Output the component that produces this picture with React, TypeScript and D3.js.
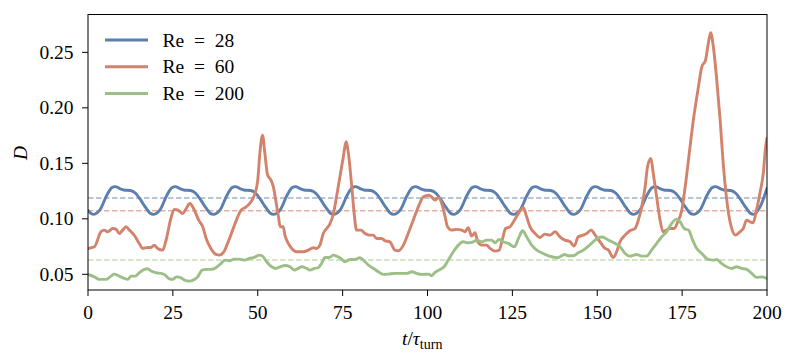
import React from "react";
import * as d3 from "d3";

const W = 797;
const H = 363;
const plot = { left: 88, right: 767, top: 14.5, bottom: 290 };

const xTicks = [0, 25, 50, 75, 100, 125, 150, 175, 200];
const yTicks = [0.05, 0.1, 0.15, 0.2, 0.25];

const seriesNames = ["Re = 28", "Re = 60", "Re = 200"];
const seriesColors = ["#5b7fae", "#d3826b", "#9cbf87"];
const meanColors = ["#9fb4d2", "#e8afa2", "#c7dcb8"];
const meanValues = [0.1187, 0.1072, 0.0629];

// [t / tau_turn, D]
const re28: [number, number][] = [
  [0, 0.1075], [1.5, 0.104], [3.5, 0.108], [5.5, 0.121], [7, 0.128], [8, 0.129], [9.5, 0.127], [10.5, 0.126],
  [12.5, 0.1255], [14, 0.123], [15.5, 0.117], [17, 0.11], [18.3, 0.105], [19.2, 0.104],
  [21.2, 0.108], [23.2, 0.121], [24.7, 0.128], [25.7, 0.129], [27.2, 0.127], [28.2, 0.126], [30.2, 0.1255],
  [31.7, 0.123], [33.2, 0.117], [34.7, 0.11], [36, 0.105], [36.9, 0.104],
  [38.9, 0.108], [40.9, 0.121], [42.4, 0.128], [43.4, 0.129], [44.9, 0.127], [45.9, 0.126], [47.9, 0.1255],
  [49.4, 0.123], [50.9, 0.117], [52.4, 0.11], [53.7, 0.105], [54.6, 0.104],
  [56.6, 0.108], [58.6, 0.121], [60.1, 0.128], [61.1, 0.129], [62.6, 0.127], [63.6, 0.126], [65.6, 0.1255],
  [67.1, 0.123], [68.6, 0.117], [70.1, 0.11], [71.4, 0.105], [72.3, 0.104],
  [74.3, 0.108], [76.3, 0.121], [77.8, 0.128], [78.8, 0.129], [80.3, 0.127], [81.3, 0.126], [83.3, 0.1255],
  [84.8, 0.123], [86.3, 0.117], [87.8, 0.11], [89.1, 0.105], [90, 0.104],
  [92, 0.108], [94, 0.121], [95.5, 0.128], [96.5, 0.129], [98, 0.127], [99, 0.126], [101, 0.1255],
  [102.5, 0.123], [104, 0.117], [105.5, 0.11], [106.8, 0.105], [107.6, 0.104],
  [109.6, 0.108], [111.6, 0.121], [113.1, 0.128], [114.1, 0.129], [115.6, 0.127], [116.6, 0.126], [118.6, 0.1255],
  [120.1, 0.123], [121.6, 0.117], [123.1, 0.11], [124.4, 0.105], [125.3, 0.104],
  [127.3, 0.108], [129.3, 0.121], [130.8, 0.128], [131.8, 0.129], [133.3, 0.127], [134.3, 0.126], [136.3, 0.1255],
  [137.8, 0.123], [139.3, 0.117], [140.8, 0.11], [142.1, 0.105], [143, 0.104],
  [145, 0.108], [147, 0.121], [148.5, 0.128], [149.5, 0.129], [151, 0.127], [152, 0.126], [154, 0.1255],
  [155.5, 0.123], [157, 0.117], [158.5, 0.11], [159.8, 0.105], [160.6, 0.104],
  [162.6, 0.108], [164.6, 0.121], [166.1, 0.128], [167.1, 0.129], [168.6, 0.127], [169.6, 0.126], [171.6, 0.1255],
  [173.1, 0.123], [174.6, 0.117], [176.1, 0.11], [177.4, 0.105], [178.3, 0.104],
  [180.3, 0.108], [182.3, 0.121], [183.8, 0.128], [184.8, 0.129], [186.3, 0.127], [187.3, 0.126], [189.3, 0.1255],
  [190.8, 0.123], [192.3, 0.117], [193.8, 0.11], [195.1, 0.105], [196, 0.104],
  [198, 0.111], [200, 0.1275],
];

const re60: [number, number][] = [
  [0, 0.0733], [1.9, 0.0748], [3.8, 0.0883], [4.8, 0.0898], [5.8, 0.0883], [7.3, 0.0913], [8.3, 0.0905],
  [9.2, 0.0868], [10.2, 0.0898], [11.2, 0.0928], [12.2, 0.0898], [13.6, 0.0853], [15.1, 0.0778], [16.1, 0.0733],
  [17.6, 0.0742], [18.6, 0.0742], [19.5, 0.0763], [20.5, 0.0733], [22, 0.0718], [23, 0.0808], [24.4, 0.1003],
  [25.4, 0.1085], [26.4, 0.108], [27.9, 0.1048], [28.8, 0.1085], [30, 0.1138], [31.1, 0.1093], [32.6, 0.0988],
  [33.8, 0.0928], [34.8, 0.0823], [36.2, 0.0733], [37.7, 0.0679], [38.7, 0.0673], [39.9, 0.0697], [41.1, 0.0778],
  [42.6, 0.0898], [44.1, 0.1018], [45.1, 0.1078], [46.6, 0.1108], [48, 0.1153], [49, 0.1213], [50, 0.1349],
  [50.6, 0.158], [51.4, 0.1754], [52.1, 0.159], [52.9, 0.1394], [53.9, 0.1349], [54.6, 0.1288], [55.3, 0.1168],
  [56.1, 0.1018], [56.6, 0.0928], [57.5, 0.0928], [58, 0.0853], [59, 0.0778], [60, 0.0733], [61.5, 0.0703],
  [63.4, 0.0703], [64.9, 0.0718], [66.4, 0.0739], [67.3, 0.0733], [68.3, 0.0763], [69.3, 0.0868], [70.3, 0.0913],
  [71.3, 0.0958], [72.3, 0.1048], [73.2, 0.1198], [74.2, 0.1378], [75.2, 0.1558], [76, 0.1694], [76.7, 0.159],
  [77.7, 0.1288], [78.4, 0.1048], [79.1, 0.0898], [80.4, 0.0898], [81.6, 0.0868], [83, 0.0853], [84, 0.0853],
  [85, 0.0823], [86.5, 0.0823], [87.5, 0.0802], [88.9, 0.0793], [90.4, 0.0718], [91.4, 0.0712], [92.9, 0.0763],
  [94.3, 0.0868], [95.8, 0.0988], [97.3, 0.1108], [98.8, 0.1198], [100.4, 0.1213], [101.2, 0.1198],
  [102.2, 0.1168], [103.2, 0.1193], [104.2, 0.1138], [105.2, 0.1018], [105.9, 0.0928], [107.1, 0.0898],
  [108.6, 0.0905], [110.1, 0.0898], [111, 0.0883], [112, 0.0919], [113, 0.0844], [114, 0.0874], [114.8, 0.0793],
  [116, 0.0763], [117.4, 0.0763], [118.4, 0.0733], [119.9, 0.0709], [121.1, 0.0718], [122, 0.0808], [123, 0.0913],
  [124.3, 0.0928], [125.6, 0.0988], [126.8, 0.1048], [128.2, 0.1103], [129.2, 0.1018], [130.2, 0.0928],
  [131.7, 0.0868], [133.1, 0.0832], [134.6, 0.0862], [136.1, 0.0853], [137.6, 0.0883], [139, 0.0838],
  [140.5, 0.0808], [142, 0.0793], [143.2, 0.0754], [144.4, 0.0838], [145.9, 0.0853], [146.9, 0.0868],
  [148.2, 0.0898], [149.3, 0.0858], [150.8, 0.0793], [152.3, 0.0733], [153.3, 0.0718], [154.7, 0.0652],
  [155.7, 0.0703], [156.7, 0.0793], [158.2, 0.0853], [159.6, 0.0892], [161.1, 0.0913], [162.1, 0.0988],
  [163.1, 0.1108], [164.1, 0.1288], [164.8, 0.1468], [165.8, 0.1544], [166.5, 0.1409], [167.5, 0.1198],
  [168.5, 0.0988], [169.4, 0.0883], [170.4, 0.0898], [171.4, 0.0913], [172.7, 0.0913], [173.7, 0.0973],
  [174.9, 0.1078], [175.9, 0.1288], [177.1, 0.159], [178.3, 0.1889], [179.8, 0.2189], [180.8, 0.2369],
  [181.9, 0.243], [182.7, 0.258], [183.4, 0.2676], [184.2, 0.255], [185.2, 0.225], [186.2, 0.1889],
  [187.1, 0.1499], [188.4, 0.1108], [189.6, 0.0913], [190.7, 0.0853], [192, 0.0883], [193, 0.0913],
  [194, 0.0988], [195, 0.0973], [195.9, 0.0964], [196.9, 0.1078], [197.9, 0.1229], [198.9, 0.1409],
  [199.6, 0.1649], [200, 0.1727],
];

const re200: [number, number][] = [
  [0, 0.0499], [1.9, 0.0477], [3.3, 0.0454], [5.3, 0.0454], [6.5, 0.0477], [7.7, 0.0502], [9.2, 0.0484],
  [10.7, 0.0463], [11.7, 0.0454], [12.7, 0.0484], [13.9, 0.0484], [15.1, 0.0514], [16.6, 0.0544], [17.6, 0.055],
  [18.6, 0.0529], [20.1, 0.0514], [21.5, 0.0508], [22.5, 0.0499], [23.8, 0.0463], [24.9, 0.0454], [26.1, 0.0477],
  [27.4, 0.0468], [28.4, 0.0448], [29.8, 0.0439], [31, 0.0448], [32.3, 0.0477], [33.6, 0.0538], [34.8, 0.0544],
  [36.2, 0.0544], [37.7, 0.0559], [39.2, 0.0598], [40.4, 0.0628], [41.6, 0.0622], [43.1, 0.0637], [44.6, 0.0637],
  [46.1, 0.0628], [47.5, 0.0643], [49, 0.0652], [50.5, 0.0673], [51.4, 0.0664], [52.6, 0.0613], [54.1, 0.0568],
  [55.3, 0.0553], [56.6, 0.0568], [58, 0.058], [59.5, 0.0568], [60.8, 0.0538], [61.9, 0.0553], [62.9, 0.0568],
  [64.4, 0.0553], [65.4, 0.0538], [66.7, 0.0553], [67.8, 0.0559], [68.8, 0.0598], [69.8, 0.0652], [71, 0.0652],
  [72.3, 0.0673], [73.2, 0.0664], [74.5, 0.0643], [75.7, 0.0613], [77.2, 0.0634], [78.6, 0.0634], [80.1, 0.0649],
  [81.1, 0.0628], [82.6, 0.0583], [84.1, 0.0553], [85.5, 0.0523], [87, 0.0499], [88.5, 0.0502], [90.4, 0.0508],
  [92.4, 0.0508], [93.9, 0.0508], [95.4, 0.0523], [96.8, 0.0508], [98.3, 0.0499], [100.3, 0.0502],
  [101.2, 0.0487], [102.2, 0.0517], [103.7, 0.0544], [104.9, 0.0568], [106.1, 0.0628], [107.6, 0.0703],
  [109.1, 0.0763], [110.5, 0.0793], [112, 0.0784], [113.5, 0.0793], [114.5, 0.0808], [116, 0.0793],
  [117.4, 0.0808], [118.9, 0.0808], [119.9, 0.0784], [121.1, 0.0814], [122.3, 0.0793], [123.8, 0.0778],
  [125.6, 0.0748], [126.8, 0.0823], [128, 0.0892], [129.2, 0.0838], [130.7, 0.0763], [132.2, 0.0718],
  [133.6, 0.0694], [135.1, 0.0673], [136.6, 0.0658], [138.1, 0.0649], [139, 0.0658], [140.3, 0.0679],
  [141.5, 0.0667], [142.9, 0.0667], [144.4, 0.0694], [145.9, 0.0718], [147.4, 0.0754], [148.8, 0.0793],
  [150.3, 0.0828], [151.5, 0.0836], [153.3, 0.0808], [155.3, 0.0778], [156.7, 0.0748], [158.2, 0.0688],
  [159.6, 0.0664], [161.6, 0.0679], [163.1, 0.0664], [164.5, 0.0664], [166, 0.0718], [167.5, 0.0778],
  [169, 0.0838], [170.4, 0.0883], [171.9, 0.0958], [173.4, 0.0997], [174.4, 0.0973], [175.6, 0.0913],
  [176.9, 0.0898], [178.1, 0.0808], [179.3, 0.0733], [180.8, 0.0688], [182.7, 0.0634], [184.2, 0.0628],
  [185.2, 0.0634], [186.6, 0.0598], [188.1, 0.0568], [189.6, 0.0553], [191, 0.0568], [192.5, 0.0553],
  [194, 0.0544], [195.5, 0.0508], [196.9, 0.0472], [198.4, 0.0477], [200, 0.0463],
];

const allSeries = [re28, re60, re200];

const FONT = '"Liberation Serif"';
const textStyle = { fontFamily: FONT };
const FS = 19.5;

export default function App() {
  const x = d3.scaleLinear().domain([0, 200]).range([plot.left, plot.right]);
  const y = d3.scaleLinear().domain([0.03586, 0.2841]).range([plot.bottom, plot.top]);

  const line = d3
    .line<[number, number]>()
    .x((d) => x(d[0]))
    .y((d) => y(d[1]))
    .curve(d3.curveMonotoneX);

  const fmt = d3.format(".2f");

  return (
    <svg width={W} height={H} style={{ position: "absolute", left: 0, top: 0, background: "#fff" }}>
      <defs>
        <clipPath id="plotclip">
          <rect x={plot.left} y={plot.top} width={plot.right - plot.left} height={plot.bottom - plot.top} />
        </clipPath>
      </defs>

      {/* mean values, dashed */}
      <g clipPath="url(#plotclip)">
        {meanValues.map((m, i) => (
          <line
            key={"m" + i}
            x1={plot.left}
            x2={plot.right}
            y1={y(m)}
            y2={y(m)}
            stroke={meanColors[i]}
            strokeWidth={1.5}
            strokeDasharray="5.5,2.5"
          />
        ))}
        {allSeries.map((s, i) => (
          <path
            key={"s" + i}
            d={line(s) ?? ""}
            fill="none"
            stroke={seriesColors[i]}
            strokeWidth={2.9}
            strokeLinejoin="round"
            strokeLinecap="round"
          />
        ))}
      </g>

      {/* frame */}
      <rect
        x={plot.left}
        y={plot.top}
        width={plot.right - plot.left}
        height={plot.bottom - plot.top}
        fill="none"
        stroke="#000"
        strokeWidth={1}
      />

      {/* x axis */}
      {xTicks.map((t) => (
        <g key={"x" + t}>
          <line x1={x(t)} x2={x(t)} y1={plot.bottom} y2={plot.bottom + 6} stroke="#000" strokeWidth={1} />
          <text x={x(t)} y={318.5} textAnchor="middle" fontSize={FS} fill="#000" style={textStyle}>
            {t}
          </text>
        </g>
      ))}

      {/* y axis */}
      {yTicks.map((t) => (
        <g key={"y" + t}>
          <line x1={plot.left - 6} x2={plot.left} y1={y(t)} y2={y(t)} stroke="#000" strokeWidth={1} />
          <text x={73.5} y={y(t) + 6.3} textAnchor="end" fontSize={FS} fill="#000" style={textStyle}>
            {fmt(t)}
          </text>
        </g>
      ))}

      {/* axis labels */}
      <text x={402} y={345} fontSize={FS} fill="#000" style={textStyle}>
        <tspan fontStyle="italic">t</tspan>
        <tspan>/</tspan>
        <tspan fontStyle="italic">τ</tspan>
        <tspan fontSize={14} dy={4}>turn</tspan>
      </text>
      <text
        transform="translate(27,153) rotate(-90)"
        textAnchor="middle"
        fontSize={FS}
        fontStyle="italic"
        fill="#000"
        style={textStyle}
      >
        D
      </text>

      {/* legend */}
      {seriesNames.map((name, i) => {
        const ly = 40 + i * 26.7;
        return (
          <g key={"l" + i}>
            <line x1={105} x2={148} y1={ly} y2={ly} stroke={seriesColors[i]} strokeWidth={3} />
            <text x={162.5} y={ly + 6.5} fontSize={FS} fill="#000" style={textStyle}>
              {name.replace(" = ", "\u2002=\u2002")}
            </text>
          </g>
        );
      })}
    </svg>
  );
}
